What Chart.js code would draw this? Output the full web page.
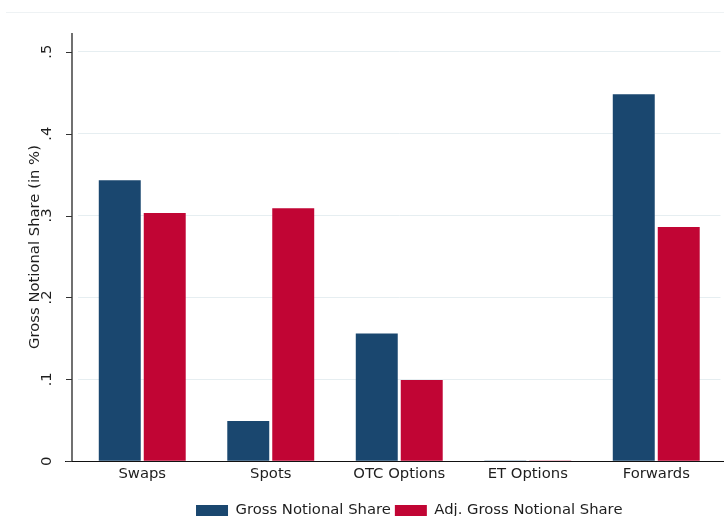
<!DOCTYPE html>
<html>
<head>
<meta charset="utf-8">
<script src="https://cdn.jsdelivr.net/npm/chart.js@4.4.1/dist/chart.umd.min.js"></script>
<style>
  html, body { margin: 0; padding: 0; background: #fff; overflow: hidden; }
  #wrap { width: 724px; height: 516px; position: relative; }
</style>
</head>
<body>
<div id="wrap"><canvas id="c"></canvas></div>
<script>
const categories = ['Swaps', 'Spots', 'OTC Options', 'ET Options', 'Forwards'];
const grossShare = [0.343, 0.049, 0.156, 0.001, 0.448];
const adjGrossShare = [0.303, 0.309, 0.099, 0.001, 0.286];
const seriesNames = ['Gross Notional Share', 'Adj. Gross Notional Share'];
const yTickValues = [0, 0.1, 0.2, 0.3, 0.4, 0.5];
const yTickLabels = ['0', '.1', '.2', '.3', '.4', '.5'];
const yAxisTitle = 'Gross Notional Share (in %)';

const FONT = 'DejaVu Sans';
const TXT = '#1e1e1e';
const LEGEND_DX = 10;
const LEGEND_DY = 12;

const axisPlugin = {
  id: 'stataAxes',
  beforeDraw(chart) {
    const ctx = chart.ctx;
    ctx.save();
    ctx.strokeStyle = '#eef2f4';
    ctx.lineWidth = 1;
    ctx.beginPath();
    ctx.moveTo(6, 12.5);
    ctx.lineTo(chart.width, 12.5);
    ctx.stroke();
    ctx.restore();
  },
  afterLayout(chart) {
    const lg = chart.legend;
    if (lg) {
      lg.left += LEGEND_DX; lg.right += LEGEND_DX;
      lg.top += LEGEND_DY; lg.bottom += LEGEND_DY;
    }
  },
  afterDraw(chart) {
    const ctx = chart.ctx;
    const { left, top, bottom } = chart.chartArea;
    const yS = chart.scales.y;
    const ax = left - 6;
    ctx.save();
    ctx.strokeStyle = '#111';
    ctx.lineWidth = 1.2;
    ctx.beginPath();
    ctx.moveTo(ax, top);
    ctx.lineTo(ax, bottom);
    ctx.stroke();
    ctx.beginPath();
    ctx.moveTo(ax - 7, Math.round(bottom) + 0.5);
    ctx.lineTo(chart.width, Math.round(bottom) + 0.5);
    ctx.stroke();
    ctx.strokeStyle = '#333';
    ctx.lineWidth = 1;
    yS.ticks.forEach(t => {
      const p = Math.round(yS.getPixelForValue(t.value)) + 0.5;
      ctx.beginPath();
      ctx.moveTo(ax - 6, p);
      ctx.lineTo(ax, p);
      ctx.stroke();
    });
    ctx.restore();
  }
};

new Chart(document.getElementById('c'), {
  type: 'bar',
  data: {
    labels: categories,
    datasets: [
      { label: seriesNames[0], data: grossShare, backgroundColor: '#1a476f', borderWidth: 0 },
      { label: seriesNames[1], data: adjGrossShare, backgroundColor: '#c10534', borderWidth: 0 }
    ]
  },
  options: {
    responsive: true,
    maintainAspectRatio: false,
    animation: false,
    categoryPercentage: 0.70,
    barPercentage: 0.933,
    layout: { padding: { top: 31, right: 3.5, left: 0, bottom: 0 } },
    plugins: {
      tooltip: { enabled: false },
      legend: {
        position: 'bottom',
        fullSize: false,
        labels: {
          font: { family: FONT, size: 14.8 },
          color: TXT,
          boxWidth: 32,
          boxHeight: 11,
          padding: 4
        }
      }
    },
    scales: {
      x: {
        grid: { display: false, drawTicks: false },
        border: { display: false },
        ticks: { font: { family: FONT, size: 14.8 }, color: TXT, padding: 4, maxRotation: 0 },
        afterFit(s) { s.height = 26; }
      },
      y: {
        min: 0,
        max: 0.523,
        afterBuildTicks(s) { s.ticks = yTickValues.map(v => ({ value: v })); },
        grid: { color: '#e6eef1', lineWidth: 1, drawTicks: false },
        border: { display: false },
        ticks: {
          font: { family: FONT, size: 14.8 },
          color: TXT,
          minRotation: 90,
          maxRotation: 90,
          crossAlign: 'center',
          padding: 24,
          callback(v) {
            const i = yTickValues.findIndex(t => Math.abs(t - v) < 1e-9);
            return i >= 0 ? yTickLabels[i] : '';
          }
        },
        title: {
          display: true,
          text: yAxisTitle,
          font: { family: FONT, size: 14.8 },
          color: TXT,
          padding: { top: 26, bottom: 0 }
        },
        afterFit(s) { s.width = 78; }
      }
    }
  },
  plugins: [axisPlugin]
});
</script>
</body>
</html>
